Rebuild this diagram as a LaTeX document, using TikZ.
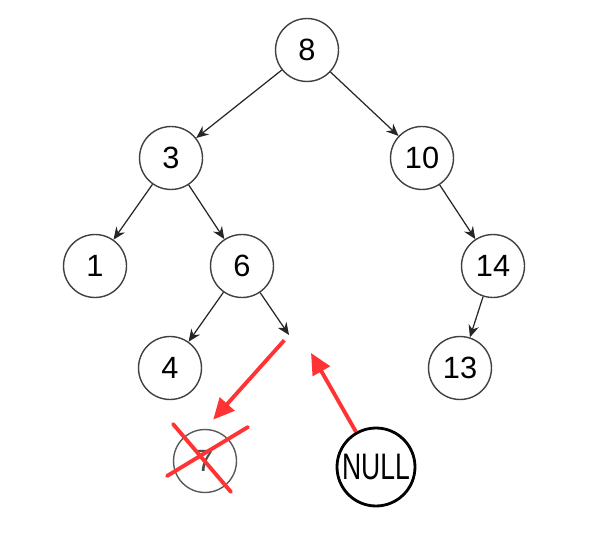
\documentclass[tikz,border=0pt]{standalone}
\usepackage{fontspec}
\setmainfont{Liberation Sans}
\newfontfamily\narrowfont[FakeStretch=0.72]{Liberation Sans}
\usetikzlibrary{arrows.meta}

\begin{document}
\begin{tikzpicture}[
    x=0.02cm, y=-0.02cm,
    >={Stealth[length=7pt,width=6pt]},
    font=\fontsize{17.5}{19}\selectfont,
    key/.style={circle, draw=black!75, line width=0.8pt, minimum size=1.26cm, inner sep=0pt},
    link/.style={->, black!85, line width=0.7pt},
    mark red/.style={red!80!white, line width=2.2pt},
    pointer/.style={mark red, -{Triangle[length=12pt,width=11pt]}}
]
\useasboundingbox (0,0) rectangle (594,533);

% the tree
\node[key] (n8) at (307,50) {8};
\node[key] (n3) at (171,158) {3};
\node[key] (n10) at (422,158) {10};
\node[key] (n1) at (95,266) {1};
\node[key] (n6) at (242,266) {6};
\node[key] (n14) at (493,266) {14};
\node[key] (n4) at (170,368) {4};
\node[key] (n13) at (460,368) {13};
\node[key, draw=black!65, text=black!70] (n7) at (205,461) {7};
\node[circle, draw=black, line width=1.6pt, minimum size=1.56cm, inner sep=0pt,
      font=\narrowfont\fontsize{21}{22}\selectfont] (null) at (376,467) {NULL};
\coordinate (gap) at (289,335);
\coordinate (hole) at (311,353);

\draw[link] (n8) -- (n3);
\draw[link] (n8) -- (n10);
\draw[link] (n3) -- (n1);
\draw[link] (n3) -- (n6);
\draw[link] (n10) -- (n14);
\draw[link] (n6) -- (n4);
\draw[link] (n6) -- (gap);
\draw[link] (n14) -- (n13);

% deleted node and its replacement
\draw[mark red, line cap=round] (173,424) -- (231,492);
\draw[mark red, line cap=round] (248,427) -- (167,476);
\draw[pointer, shorten <=4pt, shorten >=7pt] (gap) -- (n7.north);
\draw[pointer] (null) -- (hole);

\end{tikzpicture}
\end{document}
